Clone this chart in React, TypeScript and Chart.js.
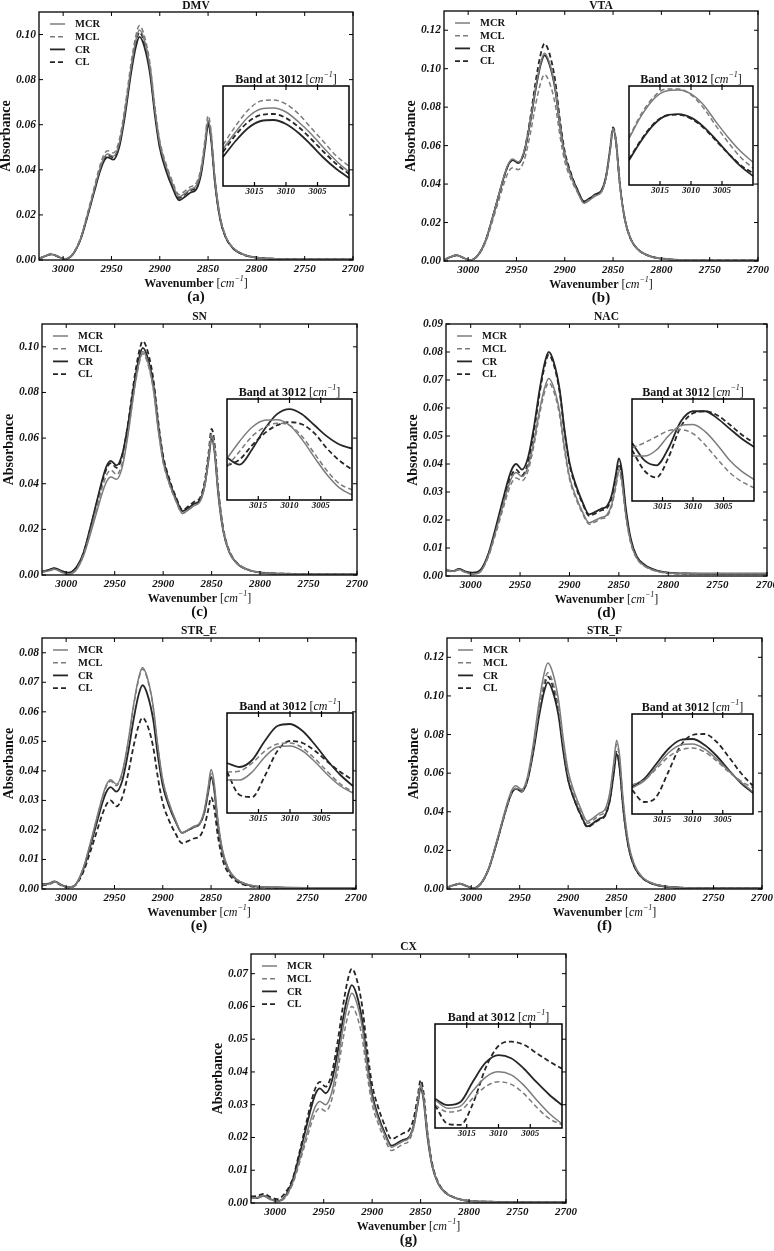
import React, { useEffect, useRef } from 'react';
import { Chart, registerables } from 'chart.js';

Chart.register(...registerables);

const SERIF = '"Liberation Serif", "Times New Roman", "DejaVu Serif", serif';

// ---------- shared axes / categories ----------
const WN = [3025, 3018, 3012, 3005, 2998, 2990, 2982, 2975, 2968, 2962, 2958, 2954, 2948, 2942, 2936, 2930, 2925, 2921, 2916, 2910, 2905, 2900, 2894, 2887, 2880, 2874, 2868, 2862, 2857, 2853, 2850, 2847, 2843, 2838, 2832, 2824, 2812, 2800, 2780, 2750, 2700];
const X_TICKS = [3000, 2950, 2900, 2850, 2800, 2750, 2700];
const X_MIN = 2700;
const X_MAX = 3025;
const BAND_WN = [3020, 3018, 3016, 3014, 3012, 3010, 3008, 3006, 3004, 3002, 3000];
const BAND_TICKS = [3015, 3010, 3005];
const BAND_CENTER = 3012;
const SERIES_LABELS = ['MCR', 'MCL', 'CR', 'CL'];

// ---------- y ticks ----------
const Y_TICKS_DMV = [0, 0.02, 0.04, 0.06, 0.08, 0.1];
const Y_TICKS_VTA = [0, 0.02, 0.04, 0.06, 0.08, 0.1, 0.12];
const Y_TICKS_SN = [0, 0.02, 0.04, 0.06, 0.08, 0.1];
const Y_TICKS_NAC = [0, 0.01, 0.02, 0.03, 0.04, 0.05, 0.06, 0.07, 0.08, 0.09];
const Y_TICKS_STRE = [0, 0.01, 0.02, 0.03, 0.04, 0.05, 0.06, 0.07, 0.08];
const Y_TICKS_STRF = [0, 0.02, 0.04, 0.06, 0.08, 0.1, 0.12];
const Y_TICKS_CX = [0, 0.01, 0.02, 0.03, 0.04, 0.05, 0.06, 0.07];

// ---------- DMV ----------
const DMV_MCR = [0.0005, 0.0019, 0.0026, 0.0015, 0.0004, 0.0026, 0.0094, 0.0197, 0.0310, 0.0404, 0.0451, 0.0470, 0.0460, 0.0516, 0.0662, 0.0846, 0.0970, 0.1020, 0.0976, 0.0850, 0.0665, 0.0517, 0.0421, 0.0339, 0.0280, 0.0295, 0.0314, 0.0331, 0.0402, 0.0525, 0.0620, 0.0558, 0.0360, 0.0198, 0.0105, 0.0053, 0.0022, 0.0011, 0.0005, 0.0003, 0.0003];
const DMV_MCL = [0.0006, 0.0019, 0.0027, 0.0015, 0.0005, 0.0027, 0.0097, 0.0204, 0.0320, 0.0417, 0.0466, 0.0485, 0.0475, 0.0532, 0.0678, 0.0865, 0.0989, 0.1040, 0.0995, 0.0868, 0.0680, 0.0530, 0.0433, 0.0350, 0.0290, 0.0306, 0.0325, 0.0343, 0.0416, 0.0542, 0.0640, 0.0576, 0.0371, 0.0205, 0.0109, 0.0054, 0.0023, 0.0012, 0.0005, 0.0003, 0.0003];
const DMV_CR = [0.0005, 0.0018, 0.0025, 0.0014, 0.0004, 0.0025, 0.0091, 0.0191, 0.0300, 0.0391, 0.0437, 0.0455, 0.0445, 0.0500, 0.0641, 0.0821, 0.0941, 0.0990, 0.0947, 0.0823, 0.0642, 0.0497, 0.0403, 0.0323, 0.0265, 0.0280, 0.0299, 0.0315, 0.0386, 0.0506, 0.0600, 0.0540, 0.0348, 0.0192, 0.0102, 0.0051, 0.0022, 0.0011, 0.0005, 0.0003, 0.0003];
const DMV_CL = [0.0006, 0.0019, 0.0026, 0.0015, 0.0005, 0.0026, 0.0093, 0.0195, 0.0307, 0.0400, 0.0446, 0.0465, 0.0455, 0.0511, 0.0655, 0.0838, 0.0960, 0.1010, 0.0966, 0.0841, 0.0657, 0.0510, 0.0415, 0.0334, 0.0275, 0.0290, 0.0309, 0.0325, 0.0396, 0.0516, 0.0610, 0.0549, 0.0354, 0.0195, 0.0104, 0.0052, 0.0022, 0.0011, 0.0005, 0.0003, 0.0003];
const DMV_BAND_MCR = [2.37, 2.54, 2.69, 2.77, 2.78, 2.74, 2.64, 2.52, 2.38, 2.25, 2.14];
const DMV_BAND_MCL = [2.41, 2.60, 2.76, 2.85, 2.86, 2.82, 2.72, 2.58, 2.44, 2.30, 2.20];
const DMV_BAND_CR = [2.29, 2.45, 2.58, 2.65, 2.66, 2.62, 2.53, 2.41, 2.28, 2.17, 2.08];
const DMV_BAND_CL = [2.34, 2.51, 2.64, 2.71, 2.72, 2.68, 2.59, 2.47, 2.34, 2.22, 2.12];

// ---------- VTA ----------
const VTA_MCR = [0.0006, 0.0022, 0.0031, 0.0017, 0.0005, 0.0030, 0.0106, 0.0223, 0.0350, 0.0456, 0.0509, 0.0530, 0.0515, 0.0572, 0.0718, 0.0905, 0.1029, 0.1080, 0.1033, 0.0901, 0.0706, 0.0550, 0.0448, 0.0362, 0.0300, 0.0318, 0.0339, 0.0359, 0.0440, 0.0581, 0.0690, 0.0621, 0.0400, 0.0221, 0.0117, 0.0059, 0.0025, 0.0012, 0.0005, 0.0003, 0.0003];
const VTA_MCL = [0.0005, 0.0021, 0.0030, 0.0017, 0.0004, 0.0028, 0.0097, 0.0204, 0.0320, 0.0417, 0.0466, 0.0485, 0.0475, 0.0525, 0.0653, 0.0817, 0.0925, 0.0970, 0.0930, 0.0817, 0.0651, 0.0518, 0.0431, 0.0358, 0.0305, 0.0322, 0.0343, 0.0361, 0.0440, 0.0575, 0.0680, 0.0612, 0.0394, 0.0218, 0.0116, 0.0058, 0.0024, 0.0012, 0.0005, 0.0003, 0.0003];
const VTA_CR = [0.0005, 0.0021, 0.0030, 0.0017, 0.0004, 0.0029, 0.0105, 0.0221, 0.0347, 0.0452, 0.0504, 0.0525, 0.0510, 0.0566, 0.0712, 0.0896, 0.1020, 0.1070, 0.1024, 0.0895, 0.0705, 0.0553, 0.0454, 0.0371, 0.0310, 0.0327, 0.0348, 0.0367, 0.0447, 0.0584, 0.0690, 0.0621, 0.0400, 0.0221, 0.0117, 0.0059, 0.0025, 0.0012, 0.0005, 0.0003, 0.0003];
const VTA_CL = [0.0005, 0.0021, 0.0030, 0.0017, 0.0004, 0.0029, 0.0105, 0.0221, 0.0347, 0.0452, 0.0504, 0.0525, 0.0510, 0.0572, 0.0733, 0.0938, 0.1074, 0.1130, 0.1081, 0.0940, 0.0734, 0.0569, 0.0462, 0.0371, 0.0305, 0.0323, 0.0344, 0.0364, 0.0445, 0.0586, 0.0695, 0.0626, 0.0403, 0.0222, 0.0118, 0.0059, 0.0025, 0.0013, 0.0005, 0.0003, 0.0003];
const VTA_BAND_MCR = [2.47, 2.70, 2.87, 2.95, 2.96, 2.92, 2.81, 2.64, 2.48, 2.34, 2.23];
const VTA_BAND_MCL = [2.48, 2.72, 2.89, 2.97, 2.97, 2.91, 2.78, 2.60, 2.43, 2.28, 2.17];
const VTA_BAND_CR = [2.25, 2.45, 2.61, 2.70, 2.715, 2.68, 2.59, 2.46, 2.32, 2.19, 2.09];
const VTA_BAND_CL = [2.26, 2.46, 2.62, 2.70, 2.71, 2.67, 2.58, 2.45, 2.32, 2.20, 2.12];

// ---------- SN ----------
const SN_MCR = [0.0012, 0.0018, 0.0025, 0.0012, 0.0003, 0.0020, 0.0086, 0.0181, 0.0284, 0.0370, 0.0413, 0.0430, 0.0420, 0.0476, 0.0622, 0.0806, 0.0930, 0.0980, 0.0937, 0.0817, 0.0639, 0.0497, 0.0405, 0.0327, 0.0270, 0.0285, 0.0304, 0.0321, 0.0392, 0.0515, 0.0610, 0.0549, 0.0354, 0.0195, 0.0104, 0.0052, 0.0022, 0.0011, 0.0005, 0.0004, 0.0004];
const SN_MCL = [0.0013, 0.0019, 0.0026, 0.0014, 0.0005, 0.0024, 0.0092, 0.0193, 0.0304, 0.0396, 0.0442, 0.0460, 0.0440, 0.0493, 0.0631, 0.0806, 0.0922, 0.0970, 0.0928, 0.0809, 0.0634, 0.0494, 0.0403, 0.0326, 0.0270, 0.0286, 0.0305, 0.0323, 0.0396, 0.0522, 0.0620, 0.0558, 0.0360, 0.0198, 0.0105, 0.0053, 0.0022, 0.0011, 0.0005, 0.0004, 0.0004];
const SN_CR = [0.0015, 0.0022, 0.0030, 0.0018, 0.0010, 0.0032, 0.0100, 0.0210, 0.0330, 0.0430, 0.0480, 0.0500, 0.0480, 0.0532, 0.0665, 0.0835, 0.0949, 0.0995, 0.0952, 0.0831, 0.0652, 0.0509, 0.0416, 0.0337, 0.0280, 0.0294, 0.0312, 0.0328, 0.0395, 0.0510, 0.0600, 0.0540, 0.0348, 0.0192, 0.0102, 0.0051, 0.0022, 0.0011, 0.0006, 0.0005, 0.0005];
const SN_CL = [0.0014, 0.0021, 0.0029, 0.0017, 0.0009, 0.0030, 0.0098, 0.0206, 0.0323, 0.0421, 0.0470, 0.0490, 0.0470, 0.0526, 0.0670, 0.0853, 0.0975, 0.1025, 0.0981, 0.0855, 0.0670, 0.0522, 0.0426, 0.0344, 0.0285, 0.0301, 0.0321, 0.0338, 0.0413, 0.0541, 0.0640, 0.0576, 0.0371, 0.0205, 0.0109, 0.0054, 0.0023, 0.0012, 0.0006, 0.0005, 0.0005];
const SN_BAND_MCR = [2.41, 2.58, 2.72, 2.79, 2.795, 2.74, 2.60, 2.42, 2.25, 2.12, 2.05];
const SN_BAND_MCL = [2.33, 2.48, 2.63, 2.72, 2.76, 2.74, 2.63, 2.46, 2.29, 2.16, 2.10];
const SN_BAND_CR = [2.42, 2.35, 2.50, 2.70, 2.85, 2.90, 2.85, 2.74, 2.63, 2.55, 2.51];
const SN_BAND_CL = [2.34, 2.40, 2.54, 2.66, 2.74, 2.77, 2.75, 2.66, 2.51, 2.39, 2.30];

// ---------- NAC ----------
const NAC_MCR = [0.0024, 0.0017, 0.0023, 0.0013, 0.0006, 0.0015, 0.0074, 0.0155, 0.0244, 0.0318, 0.0355, 0.0370, 0.0355, 0.0390, 0.0481, 0.0597, 0.0674, 0.0705, 0.0674, 0.0587, 0.0458, 0.0355, 0.0288, 0.0231, 0.0190, 0.0199, 0.0209, 0.0219, 0.0258, 0.0327, 0.0380, 0.0342, 0.0220, 0.0122, 0.0065, 0.0036, 0.0018, 0.0011, 0.0009, 0.0009, 0.0009];
const NAC_MCL = [0.0021, 0.0016, 0.0022, 0.0013, 0.0008, 0.0017, 0.0070, 0.0147, 0.0231, 0.0301, 0.0336, 0.0350, 0.0340, 0.0375, 0.0466, 0.0582, 0.0659, 0.0690, 0.0660, 0.0574, 0.0448, 0.0347, 0.0281, 0.0225, 0.0185, 0.0193, 0.0204, 0.0213, 0.0252, 0.0318, 0.0370, 0.0333, 0.0215, 0.0118, 0.0063, 0.0035, 0.0017, 0.0010, 0.0008, 0.0008, 0.0008];
const NAC_CR = [0.0022, 0.0018, 0.0025, 0.0016, 0.0012, 0.0022, 0.0080, 0.0168, 0.0264, 0.0344, 0.0384, 0.0400, 0.0380, 0.0422, 0.0531, 0.0670, 0.0762, 0.0800, 0.0765, 0.0667, 0.0522, 0.0406, 0.0330, 0.0266, 0.0220, 0.0229, 0.0240, 0.0250, 0.0292, 0.0364, 0.0420, 0.0378, 0.0244, 0.0134, 0.0071, 0.0040, 0.0020, 0.0012, 0.0009, 0.0008, 0.0008];
const NAC_CL = [0.0020, 0.0016, 0.0023, 0.0014, 0.0010, 0.0020, 0.0076, 0.0160, 0.0251, 0.0327, 0.0365, 0.0380, 0.0360, 0.0403, 0.0515, 0.0657, 0.0751, 0.0790, 0.0756, 0.0658, 0.0514, 0.0399, 0.0324, 0.0261, 0.0215, 0.0223, 0.0234, 0.0243, 0.0282, 0.0348, 0.0400, 0.0360, 0.0232, 0.0128, 0.0068, 0.0038, 0.0019, 0.0011, 0.0008, 0.0007, 0.0007];
const NAC_BAND_MCR = [2.44, 2.44, 2.50, 2.64, 2.74, 2.75, 2.68, 2.55, 2.40, 2.29, 2.21];
const NAC_BAND_MCL = [2.52, 2.57, 2.63, 2.69, 2.70, 2.66, 2.55, 2.41, 2.28, 2.19, 2.13];
const NAC_BAND_CR = [2.57, 2.40, 2.35, 2.52, 2.78, 2.88, 2.88, 2.81, 2.71, 2.61, 2.53];
const NAC_BAND_CL = [2.50, 2.30, 2.23, 2.43, 2.73, 2.86, 2.88, 2.84, 2.75, 2.65, 2.57];

// ---------- STR_E ----------
const STRE_MCR = [0.0015, 0.0017, 0.0025, 0.0013, 0.0006, 0.0016, 0.0074, 0.0155, 0.0244, 0.0318, 0.0355, 0.0370, 0.0355, 0.0395, 0.0497, 0.0628, 0.0714, 0.0750, 0.0716, 0.0621, 0.0481, 0.0369, 0.0296, 0.0235, 0.0190, 0.0200, 0.0212, 0.0222, 0.0267, 0.0345, 0.0405, 0.0365, 0.0235, 0.0130, 0.0069, 0.0034, 0.0015, 0.0008, 0.0005, 0.0004, 0.0004];
const STRE_MCL = [0.0014, 0.0017, 0.0024, 0.0013, 0.0006, 0.0015, 0.0073, 0.0153, 0.0241, 0.0314, 0.0350, 0.0365, 0.0350, 0.0390, 0.0492, 0.0623, 0.0709, 0.0745, 0.0712, 0.0617, 0.0479, 0.0368, 0.0295, 0.0234, 0.0190, 0.0199, 0.0210, 0.0220, 0.0262, 0.0334, 0.0390, 0.0351, 0.0226, 0.0125, 0.0066, 0.0033, 0.0014, 0.0007, 0.0005, 0.0004, 0.0004];
const STRE_CR = [0.0016, 0.0018, 0.0026, 0.0014, 0.0006, 0.0016, 0.0069, 0.0145, 0.0228, 0.0297, 0.0331, 0.0345, 0.0330, 0.0366, 0.0460, 0.0578, 0.0658, 0.0690, 0.0660, 0.0575, 0.0450, 0.0350, 0.0285, 0.0230, 0.0190, 0.0199, 0.0209, 0.0219, 0.0258, 0.0327, 0.0380, 0.0342, 0.0220, 0.0122, 0.0065, 0.0032, 0.0014, 0.0007, 0.0005, 0.0004, 0.0004];
const STRE_CL = [0.0012, 0.0016, 0.0023, 0.0012, 0.0005, 0.0014, 0.0060, 0.0126, 0.0198, 0.0258, 0.0288, 0.0300, 0.0280, 0.0310, 0.0388, 0.0487, 0.0553, 0.0580, 0.0555, 0.0482, 0.0376, 0.0291, 0.0236, 0.0189, 0.0155, 0.0162, 0.0171, 0.0178, 0.0211, 0.0267, 0.0310, 0.0279, 0.0180, 0.0099, 0.0053, 0.0026, 0.0011, 0.0006, 0.0004, 0.0003, 0.0003];
const STRE_BAND_MCR = [2.33, 2.33, 2.41, 2.56, 2.66, 2.67, 2.62, 2.51, 2.38, 2.27, 2.20];
const STRE_BAND_MCL = [2.41, 2.42, 2.50, 2.62, 2.69, 2.70, 2.65, 2.54, 2.41, 2.29, 2.21];
const STRE_BAND_CR = [2.50, 2.46, 2.53, 2.72, 2.87, 2.89, 2.82, 2.68, 2.52, 2.38, 2.27];
const STRE_BAND_CL = [2.41, 2.18, 2.16, 2.37, 2.62, 2.72, 2.70, 2.62, 2.51, 2.41, 2.33];

// ---------- STR_F ----------
const STRF_MCR = [0.0008, 0.0020, 0.0028, 0.0016, 0.0004, 0.0030, 0.0107, 0.0225, 0.0353, 0.0460, 0.0514, 0.0535, 0.0515, 0.0581, 0.0751, 0.0967, 0.1111, 0.1170, 0.1121, 0.0981, 0.0776, 0.0612, 0.0506, 0.0416, 0.0350, 0.0369, 0.0392, 0.0413, 0.0501, 0.0652, 0.0770, 0.0693, 0.0447, 0.0246, 0.0131, 0.0065, 0.0028, 0.0014, 0.0006, 0.0004, 0.0004];
const STRF_MCL = [0.0008, 0.0020, 0.0027, 0.0015, 0.0004, 0.0029, 0.0104, 0.0218, 0.0343, 0.0447, 0.0499, 0.0520, 0.0505, 0.0567, 0.0726, 0.0929, 0.1065, 0.1120, 0.1073, 0.0941, 0.0746, 0.0590, 0.0488, 0.0402, 0.0340, 0.0358, 0.0381, 0.0402, 0.0488, 0.0635, 0.0750, 0.0675, 0.0435, 0.0240, 0.0128, 0.0064, 0.0027, 0.0014, 0.0006, 0.0004, 0.0004];
const STRF_CR = [0.0008, 0.0020, 0.0028, 0.0016, 0.0004, 0.0029, 0.0104, 0.0218, 0.0343, 0.0447, 0.0499, 0.0520, 0.0505, 0.0562, 0.0708, 0.0895, 0.1019, 0.1070, 0.1025, 0.0899, 0.0712, 0.0563, 0.0467, 0.0385, 0.0325, 0.0342, 0.0363, 0.0381, 0.0460, 0.0595, 0.0700, 0.0630, 0.0406, 0.0224, 0.0119, 0.0060, 0.0025, 0.0013, 0.0006, 0.0004, 0.0004];
const STRF_CL = [0.0007, 0.0019, 0.0027, 0.0015, 0.0004, 0.0028, 0.0104, 0.0218, 0.0343, 0.0447, 0.0499, 0.0520, 0.0505, 0.0565, 0.0719, 0.0916, 0.1046, 0.1100, 0.1053, 0.0921, 0.0726, 0.0570, 0.0468, 0.0382, 0.0320, 0.0338, 0.0359, 0.0379, 0.0460, 0.0601, 0.0710, 0.0639, 0.0412, 0.0227, 0.0121, 0.0060, 0.0026, 0.0013, 0.0006, 0.0004, 0.0004];
const STRF_BAND_MCR = [2.26, 2.33, 2.47, 2.61, 2.69, 2.70, 2.65, 2.55, 2.43, 2.32, 2.22];
const STRF_BAND_MCL = [2.29, 2.34, 2.45, 2.57, 2.64, 2.66, 2.62, 2.53, 2.42, 2.33, 2.26];
const STRF_BAND_CR = [2.27, 2.35, 2.50, 2.65, 2.74, 2.75, 2.69, 2.58, 2.44, 2.31, 2.21];
const STRF_BAND_CL = [2.24, 2.12, 2.17, 2.42, 2.68, 2.79, 2.80, 2.72, 2.57, 2.41, 2.28];

// ---------- CX ----------
const CX_MCR = [0.0016, 0.0017, 0.0023, 0.0012, 0.0005, 0.0018, 0.0062, 0.0130, 0.0205, 0.0267, 0.0298, 0.0310, 0.0300, 0.0334, 0.0422, 0.0535, 0.0609, 0.0640, 0.0612, 0.0532, 0.0414, 0.0320, 0.0259, 0.0208, 0.0170, 0.0179, 0.0189, 0.0199, 0.0238, 0.0307, 0.0360, 0.0324, 0.0209, 0.0115, 0.0061, 0.0031, 0.0013, 0.0006, 0.0004, 0.0003, 0.0003];
const CX_MCL = [0.0014, 0.0015, 0.0021, 0.0010, 0.0004, 0.0015, 0.0058, 0.0122, 0.0191, 0.0249, 0.0278, 0.0290, 0.0280, 0.0312, 0.0395, 0.0501, 0.0571, 0.0600, 0.0574, 0.0499, 0.0389, 0.0301, 0.0244, 0.0195, 0.0160, 0.0169, 0.0180, 0.0190, 0.0232, 0.0304, 0.0360, 0.0324, 0.0209, 0.0115, 0.0061, 0.0031, 0.0013, 0.0006, 0.0004, 0.0003, 0.0003];
const CX_CR = [0.0015, 0.0016, 0.0022, 0.0012, 0.0006, 0.0020, 0.0070, 0.0147, 0.0231, 0.0301, 0.0336, 0.0350, 0.0335, 0.0368, 0.0454, 0.0563, 0.0635, 0.0665, 0.0636, 0.0552, 0.0430, 0.0332, 0.0268, 0.0214, 0.0175, 0.0183, 0.0193, 0.0201, 0.0238, 0.0301, 0.0350, 0.0315, 0.0203, 0.0112, 0.0060, 0.0030, 0.0013, 0.0006, 0.0004, 0.0003, 0.0003];
const CX_CL = [0.0020, 0.0022, 0.0028, 0.0018, 0.0012, 0.0030, 0.0074, 0.0155, 0.0244, 0.0318, 0.0355, 0.0370, 0.0355, 0.0391, 0.0485, 0.0603, 0.0683, 0.0715, 0.0684, 0.0595, 0.0465, 0.0361, 0.0294, 0.0237, 0.0195, 0.0203, 0.0213, 0.0222, 0.0260, 0.0325, 0.0375, 0.0338, 0.0218, 0.0120, 0.0064, 0.0032, 0.0014, 0.0007, 0.0004, 0.0003, 0.0003];
const CX_BAND_MCR = [2.27, 2.19, 2.21, 2.36, 2.49, 2.54, 2.51, 2.41, 2.27, 2.14, 2.04];
const CX_BAND_MCL = [2.22, 2.155, 2.17, 2.29, 2.40, 2.445, 2.42, 2.33, 2.20, 2.09, 2.03];
const CX_BAND_CR = [2.28, 2.22, 2.25, 2.45, 2.63, 2.70, 2.67, 2.57, 2.44, 2.32, 2.22];
const CX_BAND_CL = [2.22, 2.04, 2.03, 2.24, 2.58, 2.79, 2.83, 2.80, 2.72, 2.64, 2.57];

// ---------- styles & layout ----------
const STYLES = [
  { color: '#7c7c7c', dash: [] as number[], width: 1.5 },
  { color: '#7c7c7c', dash: [5, 3], width: 1.5 },
  { color: '#262626', dash: [] as number[], width: 1.8 },
  { color: '#262626', dash: [5, 3], width: 1.8 },
];

const PAD_L = 45;
const PAD_T = 16;
const PAD_R = 16;
const PAD_B = 46;
const IN_L = 12;
const IN_R = 12;
const IN_T = 20;
const IN_B = 14;

type Box = { l: number; t: number; r: number; b: number };
type PanelDef = {
  title: string; letter: string; series: number[][]; band: number[][];
  yMax: number; yTicks: number[]; area: Box; inset: Box;
};

const PANELS: PanelDef[] = [
  { title: 'DMV', letter: '(a)', series: [DMV_MCR, DMV_MCL, DMV_CR, DMV_CL], band: [DMV_BAND_MCR, DMV_BAND_MCL, DMV_BAND_CR, DMV_BAND_CL], yMax: 0.11, yTicks: Y_TICKS_DMV, area: { l: 39, t: 12, r: 353, b: 260 }, inset: { l: 223, t: 86, r: 349, b: 186 } },
  { title: 'VTA', letter: '(b)', series: [VTA_MCR, VTA_MCL, VTA_CR, VTA_CL], band: [VTA_BAND_MCR, VTA_BAND_MCL, VTA_BAND_CR, VTA_BAND_CL], yMax: 0.13, yTicks: Y_TICKS_VTA, area: { l: 444, t: 11, r: 758, b: 261 }, inset: { l: 629, t: 86, r: 753, b: 185 } },
  { title: 'SN', letter: '(c)', series: [SN_MCR, SN_MCL, SN_CR, SN_CL], band: [SN_BAND_MCR, SN_BAND_MCL, SN_BAND_CR, SN_BAND_CL], yMax: 0.11, yTicks: Y_TICKS_SN, area: { l: 42, t: 324, r: 357, b: 575 }, inset: { l: 227, t: 399, r: 352, b: 500 } },
  { title: 'NAC', letter: '(d)', series: [NAC_MCR, NAC_MCL, NAC_CR, NAC_CL], band: [NAC_BAND_MCR, NAC_BAND_MCL, NAC_BAND_CR, NAC_BAND_CL], yMax: 0.09, yTicks: Y_TICKS_NAC, area: { l: 446, t: 324, r: 767, b: 576 }, inset: { l: 632, t: 399, r: 754, b: 501 } },
  { title: 'STR_E', letter: '(e)', series: [STRE_MCR, STRE_MCL, STRE_CR, STRE_CL], band: [STRE_BAND_MCR, STRE_BAND_MCL, STRE_BAND_CR, STRE_BAND_CL], yMax: 0.085, yTicks: Y_TICKS_STRE, area: { l: 42, t: 638, r: 356, b: 889 }, inset: { l: 227, t: 713, r: 353, b: 813 } },
  { title: 'STR_F', letter: '(f)', series: [STRF_MCR, STRF_MCL, STRF_CR, STRF_CL], band: [STRF_BAND_MCR, STRF_BAND_MCL, STRF_BAND_CR, STRF_BAND_CL], yMax: 0.13, yTicks: Y_TICKS_STRF, area: { l: 447, t: 638, r: 762, b: 889 }, inset: { l: 632, t: 714, r: 753, b: 814 } },
  { title: 'CX', letter: '(g)', series: [CX_MCR, CX_MCL, CX_CR, CX_CL], band: [CX_BAND_MCR, CX_BAND_MCL, CX_BAND_CR, CX_BAND_CL], yMax: 0.076, yTicks: Y_TICKS_CX, area: { l: 251, t: 954, r: 566, b: 1203 }, inset: { l: 435, t: 1024, r: 562, b: 1128 } },
];

// mixed-font label: "<bold prefix>[cm^-1]"
function drawUnitLabel(ctx: CanvasRenderingContext2D, prefix: string, cx: number, cy: number, size: number) {
  const parts = [
    { t: prefix, f: `bold ${size}px ${SERIF}`, dy: 0 },
    { t: '[', f: `${size}px ${SERIF}`, dy: 0 },
    { t: 'cm', f: `italic ${size}px ${SERIF}`, dy: 0 },
    { t: '\u22121', f: `italic ${Math.round(size * 0.7)}px ${SERIF}`, dy: -size * 0.38 },
    { t: ']', f: `${size}px ${SERIF}`, dy: 0 },
  ];
  let total = 0;
  const widths = parts.map((p) => { ctx.font = p.f; const w = ctx.measureText(p.t).width; total += w; return w; });
  let x = cx - total / 2;
  ctx.textAlign = 'left';
  ctx.textBaseline = 'middle';
  parts.forEach((p, i) => { ctx.font = p.f; ctx.fillText(p.t, x, cy + p.dy); x += widths[i]; });
}

function seg(ctx: CanvasRenderingContext2D, x1: number, y1: number, x2: number, y2: number) {
  ctx.beginPath(); ctx.moveTo(x1, y1); ctx.lineTo(x2, y2); ctx.stroke();
}

const panelDecor = {
  id: 'panelDecor',
  afterDraw(chart: any, _args: any, opts: any) {
    const { ctx, chartArea: a, scales } = chart;
    ctx.save();
    ctx.strokeStyle = '#000';
    ctx.lineWidth = 1.3;
    ctx.strokeRect(a.left, a.top, a.right - a.left, a.bottom - a.top);
    ctx.lineWidth = 1;
    scales.x.ticks.forEach((t: any) => {
      const px = scales.x.getPixelForValue(t.value);
      seg(ctx, px, a.bottom, px, a.bottom - 4);
      seg(ctx, px, a.top, px, a.top + 4);
    });
    scales.y.ticks.forEach((t: any) => {
      const py = scales.y.getPixelForValue(t.value);
      seg(ctx, a.left, py, a.left + 4, py);
      seg(ctx, a.right, py, a.right - 4, py);
    });
    const cx = (a.left + a.right) / 2;
    ctx.fillStyle = '#111';
    ctx.textAlign = 'center';
    ctx.textBaseline = 'middle';
    ctx.font = `bold 11.5px ${SERIF}`;
    ctx.fillText(opts.title, cx, a.top - opts.titleGap);
    ctx.save();
    ctx.translate(a.left - 32.5, (a.top + a.bottom) / 2);
    ctx.rotate(-Math.PI / 2);
    ctx.font = `bold 14px ${SERIF}`;
    ctx.fillText('Absorbance', 0, 0);
    ctx.restore();
    drawUnitLabel(ctx, 'Wavenumber ', cx, a.bottom + 23.5, 12);
    ctx.textAlign = 'center';
    ctx.font = `bold 15px ${SERIF}`;
    ctx.fillText(opts.letter, cx, a.bottom + 37.5);
    // legend
    chart.data.datasets.forEach((ds: any, i: number) => {
      const y = a.top + 12 + i * 12.7;
      ctx.strokeStyle = ds.borderColor;
      ctx.lineWidth = ds.borderWidth;
      ctx.setLineDash(ds.borderDash || []);
      seg(ctx, a.left + 11, y, a.left + 26, y);
      ctx.setLineDash([]);
      ctx.fillStyle = '#111';
      ctx.textAlign = 'left';
      ctx.font = `bold 10.5px ${SERIF}`;
      ctx.fillText(ds.label, a.left + 36, y + 0.5);
    });
    ctx.restore();
  },
};

const insetDecor = {
  id: 'insetDecor',
  beforeDatasetsDraw(chart: any) {
    const { ctx, chartArea: a } = chart;
    ctx.save();
    ctx.fillStyle = '#fff';
    ctx.fillRect(a.left, a.top, a.right - a.left, a.bottom - a.top);
    ctx.restore();
  },
  afterDraw(chart: any) {
    const { ctx, chartArea: a, scales } = chart;
    ctx.save();
    ctx.strokeStyle = '#000';
    ctx.lineWidth = 1.5;
    ctx.strokeRect(a.left, a.top, a.right - a.left, a.bottom - a.top);
    ctx.lineWidth = 1.2;
    ctx.fillStyle = '#111';
    ctx.textAlign = 'center';
    ctx.textBaseline = 'middle';
    ctx.font = `italic bold 9px ${SERIF}`;
    BAND_TICKS.forEach((v) => {
      const px = scales.x.getPixelForValue(v);
      seg(ctx, px, a.bottom, px, a.bottom - 4);
      seg(ctx, px, a.top - 2, px, a.top + 4);
      ctx.fillText(String(v), px, a.bottom + 6);
    });
    drawUnitLabel(ctx, `Band at ${BAND_CENTER} `, (a.left + a.right) / 2, a.top - 6.5, 12);
    ctx.restore();
  },
};

function makeDatasets(series: number[][], xs: number[]) {
  return series.map((vals, i) => ({
    label: SERIES_LABELS[i],
    data: xs.map((x, k) => ({ x, y: vals[k] })),
    borderColor: STYLES[i].color,
    borderDash: STYLES[i].dash,
    borderWidth: STYLES[i].width,
    pointRadius: 0,
    fill: false,
    cubicInterpolationMode: 'monotone' as const,
  }));
}

function Panel({ p }: { p: PanelDef }) {
  const mainRef = useRef<HTMLCanvasElement>(null);
  const insetRef = useRef<HTMLCanvasElement>(null);
  const mw = p.area.r - p.area.l + PAD_L + PAD_R;
  const mh = p.area.b - p.area.t + PAD_T + PAD_B;
  const iw = p.inset.r - p.inset.l + IN_L + IN_R;
  const ih = p.inset.b - p.inset.t + IN_T + IN_B;
  // keep the panel title inside the page when the panel sits at the very top
  const titleGap = Math.min(6.5, p.area.t - 6.5);

  useEffect(() => {
    const tickFont = { family: SERIF, size: 11, style: 'italic' as const, weight: 'bold' as const };
    const main = new Chart(mainRef.current as HTMLCanvasElement, {
      type: 'line',
      data: { datasets: makeDatasets(p.series, WN) as any },
      plugins: [panelDecor],
      options: {
        animation: false,
        responsive: false,
        devicePixelRatio: 1,
        events: [],
        layout: { padding: { left: 0, top: PAD_T, right: PAD_R, bottom: 0 } },
        plugins: {
          legend: { display: false },
          tooltip: { enabled: false },
          panelDecor: { title: p.title, letter: p.letter, titleGap },
        } as any,
        scales: {
          x: {
            type: 'linear', min: X_MIN, max: X_MAX, reverse: true,
            afterBuildTicks: (s: any) => { s.ticks = X_TICKS.map((v) => ({ value: v })); },
            afterFit: (s: any) => { s.height = PAD_B; },
            grid: { display: false, drawTicks: false },
            border: { display: false },
            ticks: { autoSkip: false, maxRotation: 0, minRotation: 0, padding: 3, color: '#111', font: tickFont, callback: (v: any) => String(v) },
          },
          y: {
            type: 'linear', min: 0, max: p.yMax,
            afterBuildTicks: (s: any) => { s.ticks = p.yTicks.map((v) => ({ value: v })); },
            afterFit: (s: any) => { s.width = PAD_L; },
            grid: { display: false, drawTicks: false },
            border: { display: false },
            ticks: { autoSkip: false, padding: 3, color: '#111', font: { ...tickFont, size: 11.5 }, callback: (v: any) => Number(v).toFixed(2) },
          },
        },
      } as any,
    });
    const inset = new Chart(insetRef.current as HTMLCanvasElement, {
      type: 'line',
      data: { datasets: makeDatasets(p.band, BAND_WN) as any },
      plugins: [insetDecor],
      options: {
        animation: false,
        responsive: false,
        devicePixelRatio: 1,
        events: [],
        layout: { padding: { left: IN_L, top: IN_T, right: IN_R, bottom: IN_B } },
        plugins: { legend: { display: false }, tooltip: { enabled: false } },
        scales: {
          x: { type: 'linear', min: 3000, max: 3020, reverse: true, display: false },
          y: { type: 'linear', min: 2.0, max: 3.0, display: false },
        },
      } as any,
    });
    return () => { main.destroy(); inset.destroy(); };
  }, []);

  return (
    <>
      <canvas ref={mainRef} width={mw} height={mh}
        style={{ position: 'absolute', left: p.area.l - PAD_L, top: p.area.t - PAD_T, width: mw, height: mh }} />
      <canvas ref={insetRef} width={iw} height={ih}
        style={{ position: 'absolute', left: p.inset.l - IN_L, top: p.inset.t - IN_T, width: iw, height: ih }} />
    </>
  );
}

export default function App() {
  return (
    <div style={{ position: 'absolute', left: 0, top: 0, width: 774, height: 1251, background: '#fff', overflow: 'hidden' }}>
      {PANELS.map((p) => <Panel key={p.title} p={p} />)}
    </div>
  );
}
